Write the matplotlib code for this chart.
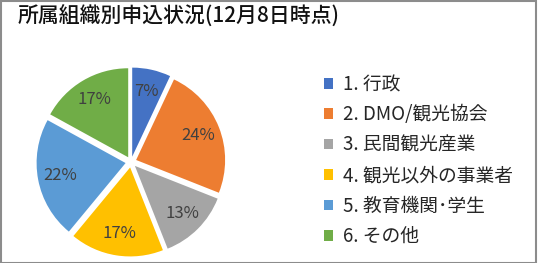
import matplotlib
matplotlib.use("Agg")
import matplotlib.pyplot as plt
from matplotlib.patches import Rectangle, Patch

plt.rcParams['font.family'] = ['Noto Sans CJK JP', 'DejaVu Sans']

title = "所属組織別申込状況(12月8日時点)"
categories = ["1. 行政", "2. DMO/観光協会", "3. 民間観光産業", "4. 観光以外の事業者", "5. 教育機関･学生", "6. その他"]
values = [7, 24, 13, 17, 22, 17]
colors = ["#4472C4", "#ED7D31", "#A5A5A5", "#FFC000", "#5B9BD5", "#70AD47"]

W, H = 538, 263
fig = plt.figure(figsize=(W / 100, H / 100), dpi=100)

cx, cy, half = 131, 162, 100
ax = fig.add_axes([(cx - half) / W, (H - cy - half) / H, 2 * half / W, 2 * half / H])
wedges, texts, autotexts = ax.pie(
    values, colors=colors, startangle=90, counterclock=False,
    radius=0.89, explode=[0.055] * len(values),
    autopct=lambda p: f"{p:.0f}%", pctdistance=0.75,
    textprops=dict(color="#404040", fontsize=12),
)
ax.set_xlim(-1, 1)
ax.set_ylim(-1, 1)
ax.set_aspect('equal')
ax.axis('off')

fig.text(18 / W, 1 - 17 / H, title, fontsize=15, fontweight="medium", color="#111111",
         va="center", ha="left")

handles = [Patch(facecolor=c, edgecolor='none') for c in colors]
leg = fig.legend(handles, categories, loc="upper left", bbox_to_anchor=(324 / W, 1 - 74 / H),
                 frameon=False, fontsize=13.5, handlelength=0.5, handleheight=0.5,
                 handletextpad=0.5, labelspacing=0.5, borderpad=0, borderaxespad=0,
                 labelcolor="#262626")

fig.patches.append(Rectangle((0.5 / W, 0.5 / H), 1 - 2.5 / W, 1 - 1.5 / H, transform=fig.transFigure,
                             fill=False, edgecolor="#8c8c8c", linewidth=1.5))

fig.savefig("out.png", dpi=100, facecolor="white")
